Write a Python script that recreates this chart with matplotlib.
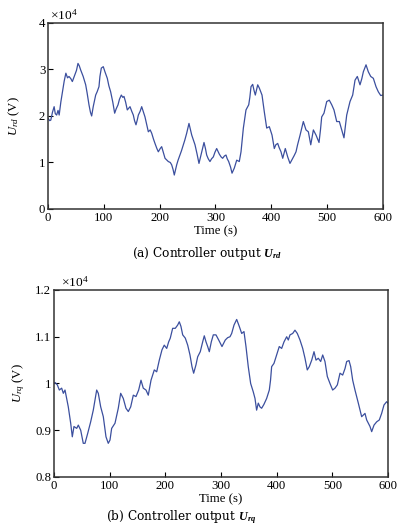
import numpy as np
import matplotlib
matplotlib.use('Agg')
import matplotlib.pyplot as plt
from matplotlib.ticker import FuncFormatter

# fonts: Times-like text, math in serif too
plt.rcParams['font.family'] = 'Liberation Serif'
plt.rcParams['mathtext.fontset'] = 'custom'
plt.rcParams['mathtext.rm'] = 'Liberation Serif'
plt.rcParams['mathtext.it'] = 'Liberation Serif:italic'
plt.rcParams['mathtext.bf'] = 'Liberation Serif:bold:italic'

# data (values in units of 1e4 V)
t_rd = [0, 3, 5, 8, 11, 13, 15.5, 18, 20, 23, 26, 29, 32, 35, 37.6, 41, 43.6, 47.8, 51, 53.7,
        56, 58.5, 63, 67.5, 70, 73.4, 76, 78.2, 81, 85.4, 88, 91.3, 93, 95.5, 99, 102, 106.2,
        109, 112.2, 116, 119.4, 122, 125.4, 128, 131.3, 134, 136.1, 139, 142, 146.9, 150,
        152.8, 155, 157.6, 160, 161.8, 165, 167.8, 171, 173.7, 177, 179.7, 183, 185.7, 189,
        191.6, 195, 197.6, 201, 203.6, 207, 209.6, 213, 215.5, 219, 221.5, 224, 226.2, 230.5,
        233, 236.4, 239, 242.4, 245, 248.4, 252.5, 257.4, 260, 263.3, 267, 270.4, 275.3,
        279.4, 282, 284.2, 287, 290.1, 293, 296.1, 299, 302.1, 306.8, 310, 312.8, 316, 318.8,
        321, 323.6, 327, 329.6, 333.7, 338, 342.6, 345.7, 349.9, 354.6, 359.5, 361.5, 363.6,
        366.6, 369, 371.3, 375.6, 378.5, 383.3, 387.4, 391.7, 396.4, 401.2, 405.3, 408,
        411.4, 414, 417.3, 420.4, 425, 429.3, 433.4, 438.3, 441, 444.2, 447, 451.3, 457.3,
        462.1, 466.3, 470.6, 475.3, 480, 485.4, 488, 490.2, 494.3, 499.2, 503.8, 508.2,
        512.2, 517.1, 521.8, 526.1, 530.1, 535, 540.9, 545.7, 549.9, 554, 558.8, 562, 564.8,
        569.6, 573.7, 578, 582.7, 587.5, 591.6, 595.9, 600]
u_rd = [1.95, 1.90, 1.91, 2.08, 2.20, 2.05, 2.02, 2.12, 2.02, 2.30, 2.52, 2.75, 2.92, 2.82,
        2.85, 2.80, 2.74, 2.88, 2.98, 3.13, 3.08, 2.99, 2.85, 2.67, 2.50, 2.24, 2.08, 2.00,
        2.20, 2.45, 2.52, 2.63, 2.85, 3.03, 3.06, 2.95, 2.81, 2.65, 2.52, 2.30, 2.06, 2.15,
        2.24, 2.36, 2.45, 2.40, 2.42, 2.30, 2.13, 2.20, 2.10, 2.02, 1.90, 1.81, 1.92, 2.02,
        2.10, 2.20, 2.08, 1.98, 1.80, 1.66, 1.70, 1.63, 1.50, 1.41, 1.30, 1.23, 1.30, 1.34,
        1.20, 1.09, 1.05, 1.02, 1.00, 0.95, 0.85, 0.73, 0.95, 1.05, 1.16, 1.25, 1.38, 1.48,
        1.63, 1.84, 1.59, 1.50, 1.38, 1.18, 0.98, 1.23, 1.43, 1.30, 1.16, 1.08, 1.02, 1.08,
        1.12, 1.22, 1.30, 1.18, 1.12, 1.09, 1.14, 1.16, 1.08, 1.02, 0.90, 0.77, 0.88, 1.05,
        1.02, 1.23, 1.74, 2.13, 2.24, 2.40, 2.63, 2.68, 2.55, 2.45, 2.67, 2.60, 2.45, 2.09,
        1.74, 1.77, 1.59, 1.30, 1.38, 1.41, 1.32, 1.23, 1.09, 1.30, 1.12, 0.98, 1.09, 1.15,
        1.23, 1.38, 1.58, 1.88, 1.70, 1.66, 1.38, 1.70, 1.59, 1.43, 1.70, 1.98, 2.06, 2.31,
        2.34, 2.24, 2.13, 1.88, 1.88, 1.70, 1.53, 2.02, 2.31, 2.45, 2.77, 2.85, 2.67, 2.80,
        2.95, 3.10, 2.95, 2.85, 2.81, 2.63, 2.52, 2.44, 2.45]

t_rq = [0, 2, 6, 9.6, 13.8, 16.8, 19.8, 25.7, 30, 32.9, 35.9, 40.8, 43.7, 48, 52.6, 55.7, 60.5,
        65.9, 70.6, 76.7, 79.6, 83.9, 88.6, 93.4, 97.5, 100.6, 103.6, 109.6, 115.5, 119.8,
        124.5, 129.3, 133.5, 137.8, 142.5, 147.3, 152.1, 156.3, 160.4, 165.3, 169.4, 174.3,
        180.2, 184.5, 189.2, 194, 198.1, 202.5, 206, 208.9, 213.2, 217.9, 222.2, 225.1,
        228.1, 231.2, 235.9, 240.2, 244.3, 247.9, 250.9, 255.1, 258.1, 262.8, 267.1, 270,
        273.1, 276.1, 279, 282.6, 286.2, 291, 295.9, 301.8, 307.7, 312, 316.2, 319.2, 323.4,
        328.2, 332.9, 337.2, 341.3, 344.9, 349, 353.3, 358, 361.1, 364, 367, 370, 373, 377,
        382, 386.8, 389, 391, 395.2, 400, 404.7, 409, 413.2, 418, 420.9, 424, 428.8, 432.9,
        437.1, 441.9, 446.8, 450.9, 455, 458.6, 463, 467.1, 470.7, 474.8, 479.1, 482.7,
        486.8, 491, 495.8, 500.6, 504.8, 509, 513.8, 518.6, 522.8, 525.8, 530, 533, 536.6,
        540.7, 543.8, 546.7, 552.7, 558.7, 561.7, 567.7, 570.7, 574.9, 579.7, 584.4, 588.6,
        592.8, 597.6, 600]
u_rq = [1.000, 1.002, 0.997, 0.986, 0.990, 0.979, 0.986, 0.950, 0.915, 0.886, 0.908, 0.904,
        0.911, 0.900, 0.872, 0.872, 0.893, 0.918, 0.943, 0.986, 0.979, 0.950, 0.929, 0.886,
        0.872, 0.879, 0.904, 0.915, 0.947, 0.979, 0.968, 0.947, 0.940, 0.950, 0.975, 0.972,
        0.986, 1.007, 0.990, 0.986, 0.975, 1.007, 1.029, 1.025, 1.050, 1.072, 1.082, 1.075,
        1.089, 1.097, 1.118, 1.118, 1.125, 1.132, 1.122, 1.104, 1.097, 1.082, 1.061, 1.036,
        1.022, 1.040, 1.057, 1.068, 1.089, 1.102, 1.089, 1.079, 1.068, 1.089, 1.104, 1.104,
        1.093, 1.079, 1.093, 1.098, 1.100, 1.107, 1.125, 1.137, 1.122, 1.107, 1.111, 1.079,
        1.036, 1.000, 0.982, 0.968, 0.943, 0.958, 0.950, 0.947, 0.955, 0.968, 0.986, 1.007,
        1.036, 1.043, 1.061, 1.079, 1.075, 1.089, 1.100, 1.093, 1.104, 1.107, 1.114, 1.107,
        1.093, 1.075, 1.054, 1.029, 1.036, 1.050, 1.068, 1.050, 1.054, 1.047, 1.061, 1.047,
        1.015, 1.000, 0.986, 0.990, 0.997, 1.022, 1.018, 1.032, 1.047, 1.049, 1.036, 1.007,
        0.986, 0.972, 0.958, 0.929, 0.936, 0.922, 0.908, 0.897, 0.911, 0.918, 0.922, 0.936,
        0.954, 0.961, 0.958]

x_ticks = [0, 100, 200, 300, 400, 500, 600]
rd_ticks = [0, 1, 2, 3, 4]
rq_ticks = [0.8, 0.9, 1.0, 1.1, 1.2]

LINE_COLOR = '#3b4f9e'
FS = 9.2

fig = plt.figure(figsize=(3.99, 5.28), dpi=100)


def style_axes(ax):
    for sp in ax.spines.values():
        sp.set_color('#333333')
        sp.set_linewidth(1.1)
    ax.tick_params(direction='in', length=3.5, width=0.8, labelsize=FS,
                   top=False, right=False, pad=2)
    ax.yaxis.set_major_formatter(FuncFormatter(lambda v, p: '%g' % v))


# (a) U_rd
ax1 = fig.add_axes([0.1203, 0.6042, 0.8396, 0.3523])
ax1.plot(t_rd, u_rd, color=LINE_COLOR, lw=0.9)
ax1.set_xlim(0, 600)
ax1.set_ylim(0, 4)
ax1.set_xticks(x_ticks)
ax1.set_yticks(rd_ticks)
style_axes(ax1)
ax1.set_xlabel('Time (s)', fontsize=FS, labelpad=1)
ax1.set_ylabel(r'$U_{rd}$ (V)', fontsize=FS)
ax1.yaxis.set_label_coords(-0.078, 0.5)
ax1.text(0.005, 1.0, r'$\times10^4$', transform=ax1.transAxes, fontsize=FS + 0.5,
         ha='left', va='bottom')
fig.text(0.519, 0.519, r'(a) Controller output $\mathbf{U_{rd}}$', fontsize=FS - 0.5,
         ha='center', va='center', family='DejaVu Serif')

# (b) U_rq
ax2 = fig.add_axes([0.1353, 0.0966, 0.8371, 0.3542])
ax2.plot(t_rq, u_rq, color=LINE_COLOR, lw=0.9)
ax2.set_xlim(0, 600)
ax2.set_ylim(0.8, 1.2)
ax2.set_xticks(x_ticks)
ax2.set_yticks(rq_ticks)
style_axes(ax2)
ax2.set_xlabel('Time (s)', fontsize=FS, labelpad=1)
ax2.set_ylabel(r'$U_{rq}$ (V)', fontsize=FS)
ax2.yaxis.set_label_coords(-0.081, 0.5)
ax2.text(0.02, 1.0, r'$\times10^4$', transform=ax2.transAxes, fontsize=FS + 0.5,
         ha='left', va='bottom')
fig.text(0.454, 0.021, r'(b) Controller output $\mathbf{U_{rq}}$', fontsize=FS - 0.5,
         ha='center', va='center', family='DejaVu Serif')

fig.savefig('out.png', dpi=100)
